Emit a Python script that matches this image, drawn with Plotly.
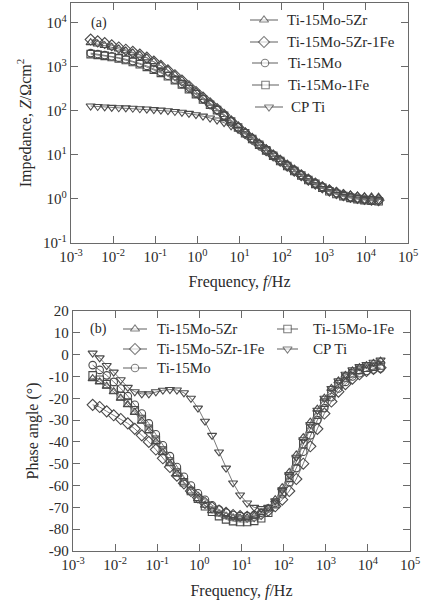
import plotly.graph_objects as go

# ---------------- data ----------------
freq = [0.00293, 0.0043, 0.00631, 0.00926, 0.0136, 0.02, 0.0293, 0.043, 0.0631, 0.0926,
        0.136, 0.2, 0.293, 0.43, 0.631, 0.926, 1.36, 2.0, 2.93, 4.3,
        6.31, 9.26, 13.6, 20.0, 29.3, 43.0, 63.1, 92.6, 136, 200,
        293, 430, 631, 926, 1360, 2000, 2930, 4300, 6310, 9260, 13600, 20000]

series_names = ["Ti-15Mo-5Zr", "Ti-15Mo-5Zr-1Fe", "Ti-15Mo", "Ti-15Mo-1Fe", "CP Ti"]

z_5zr = [3550, 3300, 3050, 2800, 2550, 2300, 2080, 1850, 1600, 1320, 1060, 840, 650, 495, 368, 273,
         203, 150, 112, 83, 61, 45, 33.5, 25, 18.5, 13.8, 10.4, 7.9, 6.0, 4.6, 3.6, 2.9, 2.35, 1.95,
         1.66, 1.46, 1.32, 1.23, 1.17, 1.13, 1.11, 1.1]
z_5zr1fe = [4170, 3800, 3470, 3090, 2750, 2450, 2190, 1900, 1620, 1320, 1050, 830, 646, 490, 363, 269,
            200, 148, 110, 81, 58, 42.5, 31, 23, 17, 12.8, 9.7, 7.4, 5.7, 4.4, 3.45, 2.75, 2.25, 1.85,
            1.57, 1.38, 1.23, 1.13, 1.06, 1.0, 0.96, 0.94]
z_15mo = [2050, 1950, 1850, 1740, 1620, 1490, 1350, 1200, 1050, 900, 760, 630, 515, 410, 320, 245,
          186, 141, 106, 79, 58, 43, 32, 23.5, 17.5, 13.1, 9.9, 7.5, 5.75, 4.45, 3.5, 2.8, 2.28, 1.88,
          1.58, 1.37, 1.21, 1.1, 1.02, 0.97, 0.94, 0.92]
z_15mo1fe = [1950, 1870, 1780, 1680, 1560, 1430, 1290, 1150, 1000, 860, 730, 610, 500, 400, 310, 240,
             182, 138, 104, 77, 57, 42, 31, 23, 17, 12.7, 9.6, 7.3, 5.6, 4.3, 3.4, 2.7, 2.2, 1.8,
             1.5, 1.3, 1.16, 1.06, 0.99, 0.94, 0.91, 0.89]
z_cpti = [129, 126, 123, 120, 118, 117, 115, 112, 110, 107, 104, 101, 97, 93, 88, 82,
          76, 69, 62, 54, 46, 38, 30, 23, 17.5, 13, 9.8, 7.4, 5.6, 4.3, 3.3, 2.6, 2.1, 1.72,
          1.45, 1.26, 1.13, 1.05, 1.0, 0.97, 0.95, 0.94]

p_5zr = [-11, -12.5, -14.5, -17, -20, -23, -26.5, -30.5, -35, -40, -45, -50, -54.5, -58.5, -62.5, -66,
         -69, -71.5, -73, -74, -74.8, -75, -74.8, -74, -72.5, -70.5, -66.5, -61, -54, -46, -38, -31,
         -25, -20, -15.5, -12, -9.5, -7.5, -6, -5, -4, -3]
p_5zr1fe = [-23, -24, -26, -27.8, -29.5, -31.5, -34, -37, -40, -43.5, -47.5, -51.5, -55.5, -59, -62.5, -65.5,
            -68, -70, -71.5, -72.5, -73.5, -74, -74.3, -74, -73, -71.5, -69.5, -66.5, -62.5, -57, -50, -42,
            -34, -27, -21.5, -17, -13.5, -11, -9, -7.5, -6.5, -6]
p_15mo = [-4.8, -7, -9.5, -12.5, -15.5, -19, -23, -27, -31.5, -36.5, -41.5, -46.5, -51.5, -56, -60, -63.5,
          -66.5, -69, -71, -72.5, -73.5, -74, -74, -73.5, -72.5, -70.5, -68, -64, -58.5, -52, -44.5, -37,
          -30, -24.5, -19.5, -15.5, -12.5, -10, -8.5, -7.5, -6.8, -6.3]
p_15mo1fe = [-9.5, -11.5, -13.5, -16, -19, -22, -25.5, -29.5, -34, -39, -44, -49, -54, -58.5, -62.5, -66,
             -69.5, -72, -74, -75.5, -76.3, -76.7, -76.7, -76.2, -75, -72.5, -68.5, -63, -56.5, -49, -41, -34,
             -27.5, -22, -17.5, -13.5, -10.5, -8.5, -7, -6, -5.5, -5]
p_cpti = [0.7, -1.5, -5, -8, -11.5, -15, -17, -18, -18, -17, -16.3, -16, -16.2, -17.5, -20, -24.5,
          -30.5, -37, -44.6, -52, -58.8, -64.3, -68, -70, -70.5, -70, -67, -62, -55, -47, -39, -32,
          -25.5, -20, -15.5, -12, -9, -7, -5.5, -4.5, -3.5, -2.5]

impedance = [z_5zr, z_5zr1fe, z_15mo, z_15mo1fe, z_cpti]
phase = [p_5zr, p_5zr1fe, p_15mo, p_15mo1fe, p_cpti]

x_tickvals = [1e-3, 1e-2, 1e-1, 1, 10, 100, 1e3, 1e4, 1e5]
x_ticktext = ["10<sup>-3</sup>", "10<sup>-2</sup>", "10<sup>-1</sup>", "10<sup>0</sup>", "10<sup>1</sup>",
              "10<sup>2</sup>", "10<sup>3</sup>", "10<sup>4</sup>", "10<sup>5</sup>"]
z_tickvals = [0.1, 1, 10, 100, 1e3, 1e4]
z_ticktext = ["10<sup>-1</sup>", "10<sup>0</sup>", "10<sup>1</sup>", "10<sup>2</sup>", "10<sup>3</sup>",
              "10<sup>4</sup>"]
p_tickvals = [20, 10, 0, -10, -20, -30, -40, -50, -60, -70, -80, -90]
p_ticktext = ["20", "10", "0", "-10", "-20", "-30", "-40", "-50", "-60", "-70", "-80", "-90"]

# ---------------- styles ----------------
symbols = ["triangle-up-open", "diamond-open", "circle-open", "square-open", "triangle-down-open"]
key_symbols = ["triangle-up", "diamond", "circle", "square", "triangle-down"]
sizes = [8, 8.5, 7.5, 7.5, 8]
MK = "#4a4a4a"
LN = "#7a7a7a"
FONT = "Liberation Serif"
TXT = "#2a2a2a"
W, H = 421, 605
ML, MR, MT, MB = 71, 11, 3, 54

fig = go.Figure()
for i, name in enumerate(series_names):
    fig.add_trace(go.Scatter(
        x=freq, y=impedance[i], name=name, mode="lines+markers",
        line=dict(color=LN, width=1),
        marker=dict(symbol=symbols[i], size=sizes[i], color=MK, line=dict(width=1.1, color=MK)),
        xaxis="x", yaxis="y", showlegend=False))
for i, name in enumerate(series_names):
    fig.add_trace(go.Scatter(
        x=freq, y=phase[i], name=name, mode="lines+markers",
        line=dict(color=LN, width=1),
        marker=dict(symbol=symbols[i], size=sizes[i], color=MK, line=dict(width=1.1, color=MK)),
        xaxis="x2", yaxis="y2", showlegend=False))

# ---------------- legends (keys drawn in a pixel-coordinate overlay) ----------------
top_y = [20, 42, 63, 85, 107]
top_l0 = [250, 250, 252, 252, 255]
top_l1 = [278, 278, 278, 279, 283]
top_tx = [285, 285, 286, 286, 289]
bot_col = [0, 0, 0, 1, 1]
bot_row = [0, 1, 2, 0, 1]
col_l0, col_l1, col_tx = [123, 277], [147, 298], [155, 311]
row_y = [329, 349, 368]

shapes, annotations = [], []
kx, ky, ksym, ksize = [], [], [], []
for i, name in enumerate(series_names):
    for (l0, l1, tx, yy) in [
        (top_l0[i], top_l1[i], top_tx[i], top_y[i]),
        (col_l0[bot_col[i]], col_l1[bot_col[i]], col_tx[bot_col[i]], row_y[bot_row[i]]),
    ]:
        shapes.append(dict(type="line", xref="x3", yref="y3", x0=l0, x1=l1, y0=yy, y1=yy,
                           line=dict(color=LN, width=1.2), layer="below"))
        kx.append((l0 + l1) / 2)
        ky.append(yy)
        ksym.append(key_symbols[i])
        ksize.append(sizes[i])
        annotations.append(dict(text=name, x=tx, y=yy, xref="x3", yref="y3", xanchor="left",
                                yanchor="middle", showarrow=False,
                                font=dict(family=FONT, size=15, color=TXT)))
fig.add_trace(go.Scatter(x=kx, y=ky, mode="markers", xaxis="x3", yaxis="y3", showlegend=False,
                         hoverinfo="skip",
                         marker=dict(symbol=ksym, size=ksize, color="white",
                                     line=dict(width=1.1, color=MK))))

annotations.append(dict(text="(a)", x=89, y=23, xref="x3", yref="y3", xanchor="left", yanchor="middle",
                        showarrow=False, font=dict(family=FONT, size=14, color=TXT)))
annotations.append(dict(text="(b)", x=88, y=329, xref="x3", yref="y3", xanchor="left", yanchor="middle",
                        showarrow=False, font=dict(family=FONT, size=14, color=TXT)))

axis_common = dict(
    showline=True, linecolor="#6a6a6a", linewidth=1.3, mirror="ticks",
    ticks="inside", ticklen=7, tickwidth=1.2, tickcolor="#6a6a6a",
    showgrid=False, zeroline=False,
    tickfont=dict(family=FONT, size=15, color=TXT),
    automargin=False,
)
title_font = dict(family=FONT, size=16, color=TXT)
PW, PH = W - ML - MR, H - MT - MB

fig.update_layout(
    width=W, height=H,
    margin=dict(l=ML, r=MR, t=MT, b=MB),
    paper_bgcolor="white", plot_bgcolor="rgba(0,0,0,0)",
    font=dict(family=FONT, color=TXT),
    showlegend=False,
    xaxis=dict(axis_common, type="log", range=[-3, 5], tickvals=x_tickvals, ticktext=x_ticktext,
               domain=[0, (408 - ML) / PW], anchor="y",
               title=dict(text="Frequency, <i>f</i>/Hz", font=title_font, standoff=11)),
    yaxis=dict(axis_common, type="log", range=[-1, 4.45], tickvals=z_tickvals, ticktext=z_ticktext,
               domain=[(H - MB - 243) / PH, 1], anchor="x",
               title=dict(text="Impedance, <i>Z</i>/Ωcm<sup>2</sup>", font=title_font, standoff=7)),
    xaxis2=dict(axis_common, type="log", range=[-3, 5], tickvals=x_tickvals, ticktext=x_ticktext,
                domain=[(73 - ML) / PW, 1], anchor="y2",
                title=dict(text="Frequency, <i>f</i>/Hz", font=title_font, standoff=12)),
    yaxis2=dict(axis_common, range=[-90, 20], tickvals=p_tickvals, ticktext=p_ticktext,
                domain=[0, (H - MB - 311) / PH], anchor="x2",
                title=dict(text="Phase angle (°)", font=title_font, standoff=6)),
    xaxis3=dict(domain=[0, 1], range=[ML, W - MR], visible=False, anchor="y3", fixedrange=True),
    yaxis3=dict(domain=[0, 1], range=[H - MB, MT], visible=False, anchor="x3", fixedrange=True),
    shapes=shapes,
    annotations=annotations,
)

fig.write_html("out.html")
